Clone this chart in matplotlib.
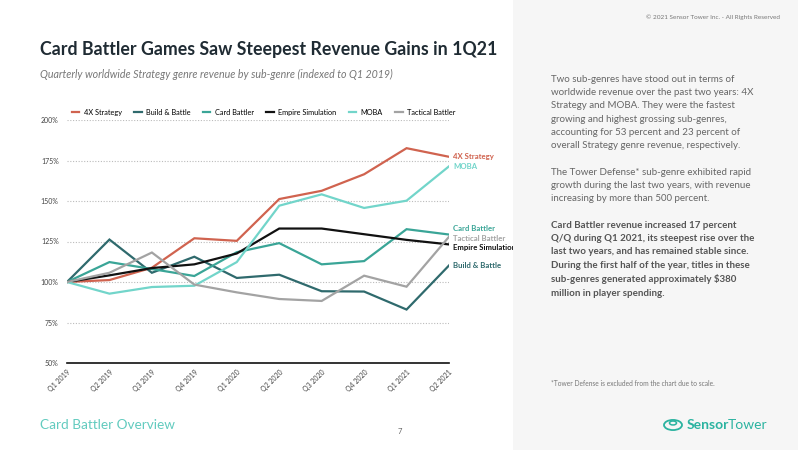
import matplotlib.pyplot as plt
from matplotlib.patches import Rectangle, Circle

quarters = ['Q1 2019', 'Q2 2019', 'Q3 2019', 'Q4 2019', 'Q1 2020',
            'Q2 2020', 'Q3 2020', 'Q4 2020', 'Q1 2021', 'Q2 2021']

strategy_4x = [100, 101.2, 108.8, 127.0, 125.4, 151.2, 156.3, 166.5, 182.6, 177.3]
build_battle = [100, 126.2, 105.7, 115.6, 102.5, 104.5, 94.3, 94.1, 83.0, 110.2]
card_battler = [100, 112.3, 108.0, 103.7, 118.4, 124.0, 110.9, 112.9, 132.6, 129.3]
empire_sim = [100, 104.1, 108.6, 110.9, 117.6, 133.0, 133.0, 129.5, 126.0, 123.2]
moba = [100, 92.8, 96.9, 97.7, 112.3, 147.1, 154.1, 145.7, 150.2, 171.4]
tactical = [100, 105.7, 118.2, 98.4, 93.6, 89.5, 88.3, 103.9, 97.1, 127.9]

series = [
    ('4X Strategy', strategy_4x, '#d0634f', 0),
    ('Build & Battle', build_battle, '#2f6a6d', 0),
    ('Card Battler', card_battler, '#3aa597', 4),
    ('Empire Simulation', empire_sim, '#111111', -2),
    ('MOBA', moba, '#72d5ca', 0),
    ('Tactical Battler', tactical, '#a3a3a3', -1.2),
]

plt.rcParams['font.family'] = ['Lato', 'DejaVu Sans']

fig = plt.figure(figsize=(8, 4.5), dpi=100)

# right grey panel
fig.patches.append(Rectangle((513/800, 0), 285/800, 1, transform=fig.transFigure,
                             facecolor='#f6f6f6', edgecolor='none', zorder=0))

ax = fig.add_axes([67/800, 1 - 363/450, 382/800, 243/450])
x = list(range(len(quarters)))
for name, vals, col, dy in series:
    ax.plot(x, vals, color=col, lw=1.6, label=name, solid_joinstyle='miter')
    ax.annotate(name, (x[-1], vals[-1]), xytext=(3, dy), textcoords='offset points',
                color=col, fontsize=5.6, fontweight='bold', va='center', ha='left',
                annotation_clip=False)

ax.set_ylim(50, 200)
ax.set_xlim(0, len(quarters) - 1)
ax.set_yticks([50, 75, 100, 125, 150, 175, 200])
ax.set_yticklabels([f'{v}%' for v in [50, 75, 100, 125, 150, 175, 200]])
ax.set_xticks(x)
ax.set_xticklabels(quarters, rotation=45, ha='right', rotation_mode='anchor')
ax.tick_params(axis='both', length=0, labelsize=5, colors='#444444', pad=6)
ax.tick_params(axis='x', pad=4)
ax.grid(axis='y', linestyle=(0, (1, 1.5)), color='#bbbbbb', lw=0.8)
for s in ['top', 'right', 'left']:
    ax.spines[s].set_visible(False)
ax.spines['bottom'].set_color('#111111')
ax.spines['bottom'].set_linewidth(1.2)
ax.set_facecolor('none')

ax.legend(loc='lower center', bbox_to_anchor=(0.515, 1.0), ncol=6, fontsize=5.3,
          frameon=False, handlelength=1.0, columnspacing=1.7, handletextpad=0.6,
          borderaxespad=0.2)

fig.text(40/800, 1 - 50/450, 'Card Battler Games Saw Steepest Revenue Gains in 1Q21',
         fontsize=12.8, fontweight='bold', color='#1f2b33', va='center')
fig.text(40/800, 1 - 74/450, 'Quarterly worldwide Strategy genre revenue by sub-genre (indexed to Q1 2019)',
         fontsize=7.7, style='italic', color='#777777', va='center')

fig.text(40/800, 1 - 425/450, 'Card Battler Overview', fontsize=9.8, color='#62cbbf',
         va='center')
fig.text(400/800, 1 - 431/450, '7', fontsize=5.5, color='#666666', va='center', ha='center')

fig.text(780/800, 1 - 17/450, '\u00a9 2021 Sensor Tower Inc. - All Rights Reserved',
         fontsize=4.6, color='#777777', ha='right', va='center')

para1 = ('Two sub-genres have stood out in terms of\n'
         'worldwide revenue over the past two years: 4X\n'
         'Strategy and MOBA. They were the fastest\n'
         'growing and highest grossing sub-genres,\n'
         'accounting for 53 percent and 23 percent of\n'
         'overall Strategy genre revenue, respectively.')
para2 = ('The Tower Defense* sub-genre exhibited rapid\n'
         'growth during the last two years, with revenue\n'
         'increasing by more than 500 percent.')
para3 = ('Card Battler revenue increased 17 percent\n'
         'Q/Q during Q1 2021, its steepest rise over the\n'
         'last two years, and has remained stable since.\n'
         'During the first half of the year, titles in these\n'
         'sub-genres generated approximately $380\n'
         'million in player spending.')
fig.text(551/800, 1 - 75/450, para1, fontsize=7.0, color='#666666', va='top',
         linespacing=1.6)
fig.text(551/800, 1 - 168/450, para2, fontsize=7.0, color='#666666', va='top',
         linespacing=1.6)
fig.text(551/800, 1 - 221/450, para3, fontsize=7.0, color='#555555', va='top',
         fontweight='bold', linespacing=1.6)
fig.text(551/800, 1 - 384/450, '*Tower Defense is excluded from the chart due to scale.',
         fontsize=4.8, color='#777777', va='center')

# logo
logo_col = '#2bb3a0'
fig.patches.append(Circle((673/800, 1 - 425/450), 9/800, transform=fig.transFigure,
                          facecolor='none', edgecolor=logo_col, lw=1.3))
fig.patches.append(Circle((673/800, 1 - 423/450), 3.5/800, transform=fig.transFigure,
                          facecolor='none', edgecolor=logo_col, lw=1.1))
fig.text(687/800, 1 - 425/450, 'Sensor', fontsize=10, fontweight='bold',
         color=logo_col, va='center')
fig.text(728/800, 1 - 425/450, 'Tower', fontsize=10, color=logo_col, va='center')

fig.savefig('out.png', dpi=100)
